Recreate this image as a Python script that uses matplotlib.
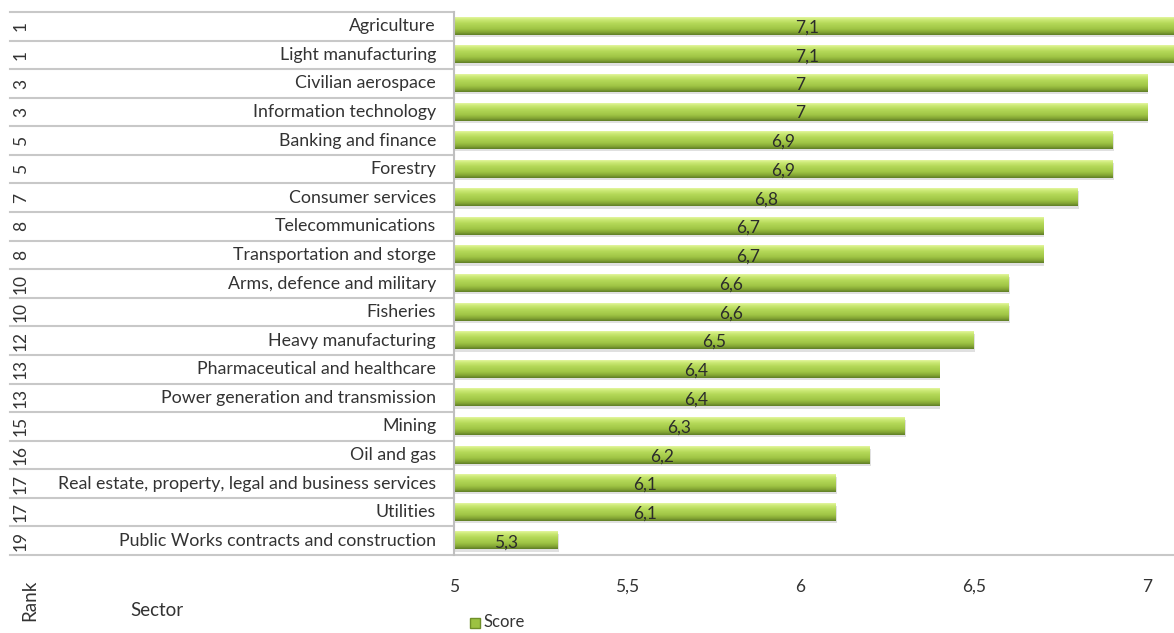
import numpy as np
import matplotlib.pyplot as plt
import matplotlib.transforms as mtransforms
from matplotlib.colors import LinearSegmentedColormap

plt.rcParams['font.family'] = ['Lato', 'DejaVu Sans']

sectors = ["Agriculture", "Light manufacturing", "Civilian aerospace",
           "Information technology", "Banking and finance", "Forestry",
           "Consumer services", "Telecommunications", "Transportation and storge",
           "Arms, defence and military", "Fisheries", "Heavy manufacturing",
           "Pharmaceutical and healthcare", "Power generation and transmission",
           "Mining", "Oil and gas",
           "Real estate, property, legal and business services", "Utilities",
           "Public Works contracts and construction"]
ranks = [1, 1, 3, 3, 5, 5, 7, 8, 8, 10, 10, 12, 13, 13, 15, 16, 17, 17, 19]
scores = [7.1, 7.1, 7.0, 7.0, 6.9, 6.9, 6.8, 6.7, 6.7, 6.6, 6.6, 6.5,
          6.4, 6.4, 6.3, 6.2, 6.1, 6.1, 5.3]
xticks = [5, 5.5, 6, 6.5, 7]

W, H = 1174, 633
fig = plt.figure(figsize=(W / 100, H / 100), dpi=100)
# plot area in pixels: x 454..1174, y 12..555
ax = fig.add_axes([454 / W, 1 - 555 / H, 1 - 454 / W, (555 - 12) / H])

x0 = 5
xmax = 5 + (W - 454) / ((1147 - 454) / 2.0)
n = len(sectors)
y = np.arange(n)
bh = 0.6

# top-to-bottom shading of a bar
bevel = LinearSegmentedColormap.from_list(
    'bevel', [(0.0, '#e4f6a0'), (0.12, '#cdea78'), (0.35, '#b4d858'),
              (0.65, '#a0c646'), (0.85, '#84a634'), (1.0, '#5f7d26')])
grad = np.linspace(0, 1, 64).reshape(-1, 1)

for yi, v in zip(y, scores):
    # soft shadow
    ax.add_patch(plt.Rectangle((x0, yi - bh / 2 + 0.08), v - x0 + 0.004, bh,
                               color='#9a9a9a', alpha=0.3, lw=0, zorder=1))
    ax.imshow(grad, cmap=bevel, aspect='auto', interpolation='bilinear',
              extent=(x0, v, yi + bh / 2, yi - bh / 2), zorder=2)

for yi, v in zip(y, scores):
    xc = (x0 + min(v, xmax - 0.04)) / 2
    ax.text(xc, yi + 0.05, f"{v:g}".replace('.', ','), ha='center', va='center',
            fontsize=12.5, color='#2b2b2b', zorder=5)

ax.set_xlim(x0, xmax)
ax.set_ylim(n - 0.5, -0.5)
ax.set_xticks(xticks)
ax.set_xticklabels([f"{t:g}".replace('.', ',') for t in xticks], fontsize=12.5,
                   color='#333333')
ax.tick_params(axis='x', length=0, pad=17)
ax.set_yticks([])
for s in ['top', 'right', 'bottom']:
    ax.spines[s].set_visible(False)
ax.spines['left'].set_color('#bfbfbf')
ax.spines['left'].set_linewidth(1.5)

# category table on the left
trans = mtransforms.blended_transform_factory(fig.transFigure, ax.transData)
grid_x0 = 10 / W
for b in np.arange(n + 1) - 0.5:
    x_end = 454 / W if b < n - 0.5 else 1.0
    ax.plot([grid_x0, x_end], [b, b], transform=trans, color='#c8c8c8',
            lw=1.5, clip_on=False, zorder=0)

for yi, name, r in zip(y, sectors, ranks):
    ax.text(436 / W, yi, name, transform=trans, ha='right', va='center',
            fontsize=12.8, color='#333333')
    ax.text(21 / W, yi, str(r), transform=trans, ha='center', va='center',
            rotation=90, fontsize=12.5, color='#333333')

fig.text(30 / W, 1 - 600 / H, "Rank", rotation=90, ha='center', va='center',
         fontsize=13.5, color='#333333')
fig.text(130 / W, 1 - 610 / H, "Sector", ha='left', va='center',
         fontsize=13.5, color='#333333')

# legend
fig.patches.append(plt.Rectangle((470 / W, 1 - 628 / H), 10 / W, 10 / H,
                                 transform=fig.transFigure, color='#9cc241',
                                 ec='#6f8f28'))
fig.text(483 / W, 1 - 622 / H, "Score", ha='left', va='center',
         fontsize=12, color='#333333')

fig.savefig('out.png', dpi=100)
